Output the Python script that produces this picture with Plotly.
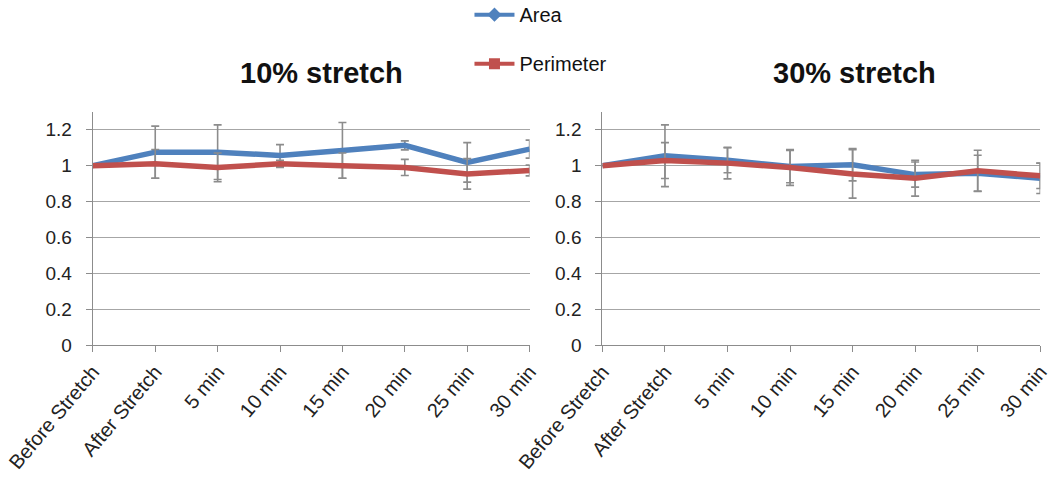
import plotly.graph_objects as go

# Time points along the category axis
categories = ["Before Stretch", "After Stretch", "5 min", "10 min",
              "15 min", "20 min", "25 min", "30 min"]

# 10% stretch: normalized area / perimeter with standard deviations
area_10 = [1.0, 1.075, 1.075, 1.057, 1.085, 1.113, 1.018, 1.092]
area_10_err = [0.0, 0.145, 0.152, 0.06, 0.155, 0.025, 0.11, 0.05]
perim_10 = [1.0, 1.01, 0.99, 1.01, 1.0, 0.99, 0.954, 0.973]
perim_10_err = [0.0, 0.08, 0.08, 0.02, 0.07, 0.045, 0.085, 0.03]

# 30% stretch
area_30 = [1.0, 1.055, 1.03, 0.995, 1.005, 0.95, 0.958, 0.93]
area_30_err = [0.0, 0.172, 0.07, 0.09, 0.09, 0.07, 0.1, 0.085]
perim_30 = [1.0, 1.028, 1.014, 0.99, 0.954, 0.93, 0.971, 0.943]
perim_30_err = [0.0, 0.1, 0.088, 0.1, 0.135, 0.1, 0.115, 0.07]

titles = ["10% stretch", "30% stretch"]
series_names = ["Area", "Perimeter"]

BLUE = "#4F81BD"
RED = "#C0504D"
GREY = "#8c8c8c"
FONT = "Liberation Sans"

fig = go.Figure()

panels = [
    ("x", "y", area_10, area_10_err, perim_10, perim_10_err),
    ("x2", "y2", area_30, area_30_err, perim_30, perim_30_err),
]

for xa, ya, a, ae, p, pe in panels:
    for vals, errs, color in ((a, ae, BLUE), (p, pe, RED)):
        fig.add_trace(go.Scatter(
            x=list(range(len(categories))), y=vals, mode="lines",
            line=dict(color=color, width=5.5),
            error_y=dict(type="data", array=errs, visible=True,
                         color=GREY, thickness=1.6, width=4),
            xaxis=xa, yaxis=ya, showlegend=False, hoverinfo="skip",
        ))

# Legend entries (line with marker)
for name, color, sym, grp in ((series_names[0], BLUE, "diamond", "a"),
                              (series_names[1], RED, "square", "p")):
    fig.add_trace(go.Scatter(
        x=[None], y=[None], mode="lines+markers", name=name,
        legendgroup=grp,
        line=dict(color=color, width=4),
        marker=dict(symbol=sym, size=11, color=color),
    ))

axis_common = dict(
    showline=True, linecolor=GREY, linewidth=1.3,
    ticks="outside", ticklen=6, tickcolor=GREY, tickwidth=1.3,
    zeroline=False, automargin=False,
)

x_common = dict(
    axis_common, tickmode="array", tickvals=list(range(len(categories))),
    ticktext=categories, tickangle=-50, range=[0, 7],
    showgrid=False, tickfont=dict(family=FONT, size=20, color="#222"),
)
y_common = dict(
    axis_common, range=[0, 1.3], tickvals=[0, 0.2, 0.4, 0.6, 0.8, 1.0, 1.2],
    ticktext=["0", "0.2", "0.4", "0.6", "0.8", "1", "1.2"],
    showgrid=True, gridcolor="#a6a6a6", gridwidth=1.2,
    ticklabelstandoff=10,
    tickfont=dict(family=FONT, size=19, color="#222"),
)

fig.update_layout(
    width=1055, height=484,
    margin=dict(l=0, r=0, t=0, b=0, autoexpand=False),
    paper_bgcolor="white", plot_bgcolor="white",
    xaxis=dict(x_common, domain=[0.088, 0.502], anchor="y"),
    yaxis=dict(y_common, domain=[0.287, 0.769], anchor="x"),
    xaxis2=dict(x_common, domain=[0.571, 0.986], anchor="y2"),
    yaxis2=dict(y_common, domain=[0.287, 0.769], anchor="x2"),
    legend=dict(
        x=0.445, y=1.01, xanchor="left", yanchor="top",
        orientation="v", traceorder="grouped", tracegroupgap=20,
        font=dict(family=FONT, size=20, color="#111"),
        itemwidth=40, bgcolor="rgba(0,0,0,0)",
    ),
    showlegend=True,
)

for title, xc in zip(titles, (0.305, 0.81)):
    fig.add_annotation(
        text="<b>" + title + "</b>", x=xc, y=1 - 73 / 484,
        xref="paper", yref="paper",
        showarrow=False, font=dict(family=FONT, size=29, color="#111"),
        xanchor="center", yanchor="middle",
    )

fig.write_html("out.html")
